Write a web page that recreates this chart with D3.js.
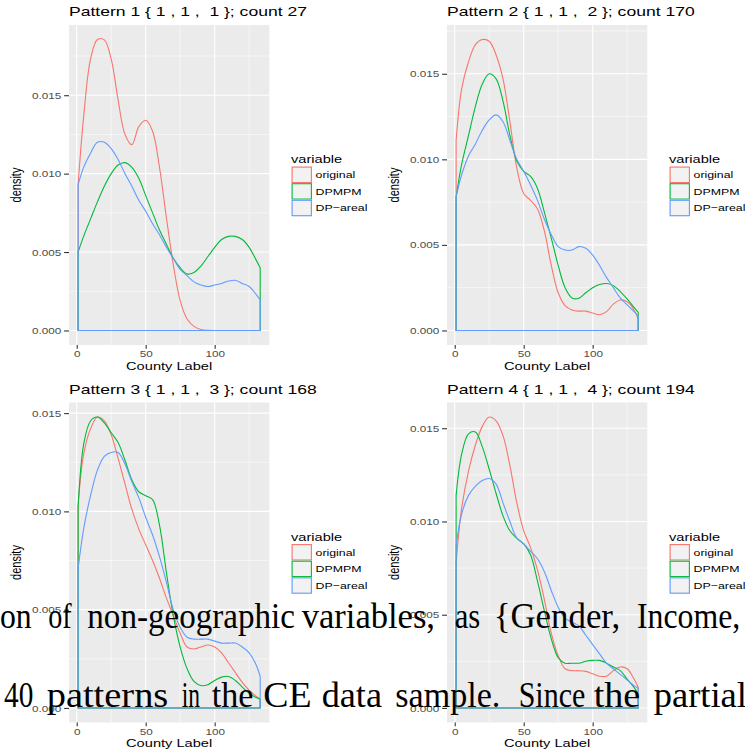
<!DOCTYPE html>
<html>
<head>
<meta charset="utf-8">
<script src="https://cdn.jsdelivr.net/npm/d3@7"></script>
<style>
  html, body { margin: 0; padding: 0; background: #fff; overflow: hidden; }
  svg { display: block; }
  text { white-space: pre; }
</style>
</head>
<body>
<svg id="fig" width="745" height="755"></svg>
<script>
// ---- data -------------------------------------------------------------
const countyGrid = [1, 5, 10, 15, 20, 25, 30, 35, 40, 45, 50, 55, 60, 65, 70,
                    75, 80, 85, 90, 95, 100, 105, 110, 115, 120, 125, 130, 133];

const seriesNames = ["original", "DPMPM", "DP\u2212areal"];
const seriesColors = ["#F8766D", "#00BA38", "#619CFF"];

const patternTitles = [
  "Pattern 1 { 1 , 1 ,  1 }; count 27",
  "Pattern 2 { 1 , 1 ,  2 }; count 170",
  "Pattern 3 { 1 , 1 ,  3 }; count 168",
  "Pattern 4 { 1 , 1 ,  4 }; count 194"
];

const xTickValues = [0, 50, 100];
const xMinorValues = [25, 75, 125];
const yTickValues = [0, 0.005, 0.010, 0.015];
const yTickLabels = ["0.000", "0.005", "0.010", "0.015"];
const yMinorValues = [0.0025, 0.0075, 0.0125, 0.0175];

const p1Original = [0.0093, 0.0136, 0.0173, 0.01855, 0.01853, 0.0173, 0.0147, 0.0125, 0.01185, 0.0130, 0.0134, 0.0127, 0.0104, 0.0072, 0.0042, 0.0019, 0.00073, 0.00026, 0.00006, 0.00001, 0, 0, 0, 0, 0, 0, 0, 0];
const p1DPMPM    = [0.0050, 0.0060, 0.0071, 0.0082, 0.0092, 0.0100, 0.01055, 0.0107, 0.0104, 0.0097, 0.0086, 0.0075, 0.0064, 0.0055, 0.0046, 0.0040, 0.0036, 0.0037, 0.0041, 0.0047, 0.0053, 0.0058, 0.0060, 0.0060, 0.0058, 0.0053, 0.0045, 0.0040];
const p1DPareal  = [0.0093, 0.0104, 0.0113, 0.0120, 0.0120, 0.0116, 0.0109, 0.0100, 0.0092, 0.0083, 0.0076, 0.0068, 0.0061, 0.0053, 0.0046, 0.0039, 0.0035, 0.0031, 0.0029, 0.0028, 0.0029, 0.0030, 0.00315, 0.0032, 0.0030, 0.0028, 0.0023, 0.00195];

const p2Original = [0.0111, 0.0141, 0.0157, 0.0167, 0.0170, 0.0169, 0.0161, 0.0147, 0.0122, 0.0095, 0.0080, 0.0076, 0.0071, 0.0058, 0.0038, 0.0022, 0.00145, 0.0012, 0.00113, 0.00113, 0.00102, 0.00092, 0.0011, 0.00154, 0.00178, 0.00168, 0.0012, 0.00066];
const p2DPMPM    = [0.0078, 0.0097, 0.0114, 0.0131, 0.0144, 0.0150, 0.0147, 0.0134, 0.0114, 0.0099, 0.0093, 0.0090, 0.0083, 0.0069, 0.0054, 0.0038, 0.0025, 0.0019, 0.00188, 0.0022, 0.0025, 0.00268, 0.00274, 0.00262, 0.00227, 0.00184, 0.00135, 0.00106];
const p2DPareal  = [0.0078, 0.0091, 0.0102, 0.0109, 0.0117, 0.0123, 0.0126, 0.0122, 0.0111, 0.0100, 0.0093, 0.0085, 0.0076, 0.0065, 0.0056, 0.0049, 0.0047, 0.0047, 0.0049, 0.0048, 0.0044, 0.0038, 0.0031, 0.0025, 0.0019, 0.0015, 0.0011, 0.00086];

const p3Original = [0.0103, 0.0129, 0.0142, 0.0148, 0.0146, 0.0139, 0.0127, 0.0114, 0.0101, 0.0091, 0.0083, 0.0075, 0.0066, 0.0056, 0.0047, 0.0038, 0.0031, 0.0030, 0.0031, 0.0032, 0.0031, 0.0028, 0.0023, 0.0018, 0.0013, 0.0009, 0.0006, 0.00046];
const p3DPMPM    = [0.0102, 0.0134, 0.0146, 0.0148, 0.0145, 0.0140, 0.0135, 0.0126, 0.0116, 0.0110, 0.0108, 0.0106, 0.0093, 0.0069, 0.0047, 0.0031, 0.0020, 0.00135, 0.00114, 0.00118, 0.0014, 0.00157, 0.0016, 0.0014, 0.00106, 0.00075, 0.00053, 0.00044];
const p3DPareal  = [0.0071, 0.0091, 0.0108, 0.0121, 0.0128, 0.0130, 0.0130, 0.0124, 0.0115, 0.0107, 0.0097, 0.0088, 0.0077, 0.0064, 0.0050, 0.0041, 0.0036, 0.0035, 0.0035, 0.0035, 0.0034, 0.0033, 0.0033, 0.0033, 0.0031, 0.0028, 0.0022, 0.0016];

const p4Original = [0.0078, 0.0107, 0.0127, 0.0141, 0.0151, 0.0156, 0.0154, 0.0146, 0.0130, 0.0110, 0.0095, 0.0086, 0.0074, 0.0058, 0.0040, 0.0028, 0.0021, 0.0020, 0.0020, 0.00196, 0.00183, 0.0017, 0.0017, 0.0020, 0.0022, 0.0021, 0.00155, 0.00111];
const p4DPMPM    = [0.0114, 0.0136, 0.0147, 0.0148, 0.0140, 0.0128, 0.0115, 0.0103, 0.0095, 0.0091, 0.0088, 0.0082, 0.0068, 0.0052, 0.0037, 0.0027, 0.0024, 0.0024, 0.0024, 0.0025, 0.00255, 0.00255, 0.0024, 0.0022, 0.0020, 0.00155, 0.0011, 0.00075];
const p4DPareal  = [0.0087, 0.0104, 0.0114, 0.0119, 0.0122, 0.0123, 0.0120, 0.0110, 0.0100, 0.0091, 0.0088, 0.0084, 0.0080, 0.0073, 0.0063, 0.0054, 0.0048, 0.0046, 0.0044, 0.0039, 0.0034, 0.0029, 0.0024, 0.0021, 0.0018, 0.0015, 0.0012, 0.00106];

const panelSeries = [
  [p1Original, p1DPMPM, p1DPareal],
  [p2Original, p2DPMPM, p2DPareal],
  [p3Original, p3DPMPM, p3DPareal],
  [p4Original, p4DPMPM, p4DPareal]
];

// running text of the page that sits over the lower figures
const bodyLine1 = ["on", "of", "non-geographic", "variables,", "as", "{Gender,", "Income,"];
const bodyLine2 = ["40", "patterns", "in", "the", "CE", "data", "sample.", "Since", "the", "partial"];

// ---- layout -----------------------------------------------------------
const SX = 1.33;                 // horizontal stretch of the embedded figure
const FONT = "'Liberation Sans', Arial, Helvetica, sans-serif";
const panelOffsets = [[0, 0], [378, 0], [0, 377.5], [378, 377.5]];
const box = { left: 69, right: 269.3, top: 25, bottom: 345 };
const line1Spans = [[0, 31.7], [48.3, 71.7], [87.3, 295], [301.7, 435], [454.7, 480.3], [493.7, 620.3], [637, 740.3]];
const line2Spans = [[4, 33.3], [46.7, 168.3], [181.7, 200], [211.7, 253.3], [263.3, 311.7], [321.7, 382], [395.3, 500.3], [518.7, 585.3], [593.7, 640.3], [653.7, 747]];

const svg = d3.select("#fig");
svg.append("rect").attr("width", 745).attr("height", 755).attr("fill", "#fff");

function sText(g, x, y, str, size, anchor, fill) {
  return g.append("text")
    .attr("transform", `translate(${x},${y}) scale(${SX},1)`)
    .attr("text-anchor", anchor || "start")
    .attr("font-family", FONT)
    .attr("font-size", size)
    .attr("fill", fill || "#000")
    .text(str);
}

panelSeries.forEach((series, pi) => {
  const [ox, oy] = panelOffsets[pi];
  const g = svg.append("g").attr("transform", `translate(${ox},${oy})`);

  const xMin = d3.min(countyGrid), xMax = d3.max(countyGrid);
  const xPad = 0.05 * (xMax - xMin);
  const x = d3.scaleLinear().domain([xMin - xPad, xMax + xPad]).range([box.left, box.right]);
  const yTop = d3.max(series, s => d3.max(s));
  const y = d3.scaleLinear().domain([-0.05 * yTop, 1.05 * yTop]).range([box.bottom, box.top]);

  // panel background and grid
  g.append("rect")
    .attr("x", box.left).attr("y", box.top)
    .attr("width", box.right - box.left).attr("height", box.bottom - box.top)
    .attr("fill", "#EBEBEB");

  const yDom = y.domain();
  const inY = v => v >= yDom[0] && v <= yDom[1];
  g.selectAll(".gxm").data(xMinorValues).join("line")
    .attr("x1", d => x(d)).attr("x2", d => x(d))
    .attr("y1", box.top).attr("y2", box.bottom)
    .attr("stroke", "#fff").attr("stroke-width", 0.55);
  g.selectAll(".gym").data(yMinorValues.filter(inY)).join("line")
    .attr("x1", box.left).attr("x2", box.right)
    .attr("y1", d => y(d)).attr("y2", d => y(d))
    .attr("stroke", "#fff").attr("stroke-width", 0.55);
  g.selectAll(".gx").data(xTickValues).join("line")
    .attr("x1", d => x(d)).attr("x2", d => x(d))
    .attr("y1", box.top).attr("y2", box.bottom)
    .attr("stroke", "#fff").attr("stroke-width", 1.1);
  g.selectAll(".gy").data(yTickValues).join("line")
    .attr("x1", box.left).attr("x2", box.right)
    .attr("y1", d => y(d)).attr("y2", d => y(d))
    .attr("stroke", "#fff").attr("stroke-width", 1.1);

  // density outlines: baseline, vertical edges at the data limits, and the curve
  const line = d3.line().x(d => x(d[0])).y(d => y(d[1])).curve(d3.curveCatmullRom.alpha(0.5));
  series.forEach((vals, si) => {
    const pts = countyGrid.map((c, i) => [c, vals[i]]);
    const curve = line(pts).replace(/^M/, "L");
    const d = `M${x(xMin)},${y(0)}` + curve + `L${x(xMax)},${y(0)}Z`;
    g.append("path")
      .attr("d", d)
      .attr("fill", "none")
      .attr("stroke", seriesColors[si])
      .attr("stroke-width", 1.1)
      .attr("stroke-linejoin", "round");
  });

  // axes
  const yAxis = d3.axisLeft(y).tickValues(yTickValues)
    .tickFormat((d, i) => yTickLabels[i]).tickSizeOuter(0).tickSize(4.9).tickPadding(0);
  const ya = g.append("g").attr("transform", `translate(${box.left},0)`).call(yAxis);
  ya.select(".domain").remove();
  ya.selectAll(".tick line").attr("stroke", "#333").attr("stroke-width", 1.1);
  ya.selectAll(".tick text")
    .attr("x", null).attr("dy", null)
    .attr("transform", `translate(-7.8,3.1) scale(${SX},1)`)
    .attr("font-family", FONT).attr("font-size", 8.8).attr("fill", "#4D4D4D");

  const xAxis = d3.axisBottom(x).tickValues(xTickValues).tickSizeOuter(0).tickSize(3.7).tickPadding(0);
  const xa = g.append("g").attr("transform", `translate(0,${box.bottom})`).call(xAxis);
  xa.select(".domain").remove();
  xa.selectAll(".tick line").attr("stroke", "#333").attr("stroke-width", 1.1);
  xa.selectAll(".tick text")
    .attr("y", null).attr("dy", null)
    .attr("transform", `translate(0,12.3) scale(${SX},1)`)
    .attr("font-family", FONT).attr("font-size", 8.8).attr("fill", "#4D4D4D");

  // titles
  sText(g, box.left, 16, patternTitles[pi], 13.2, "start");
  sText(g, (box.left + box.right) / 2, 369.5, "County Label", 11, "middle");
  g.append("text")
    .attr("transform", `translate(21,${(box.top + box.bottom) / 2}) scale(${SX},1) rotate(-90)`)
    .attr("text-anchor", "middle")
    .attr("font-family", FONT).attr("font-size", 11).attr("fill", "#000")
    .text("density");

  // legend
  const lx = 291.5, ly = 166.5, kw = 20.5, kh = 16.6;
  sText(g, lx - 0.5, 163, "variable", 11, "start");
  seriesNames.forEach((name, si) => {
    const ky = ly + si * kh;
    g.append("rect").attr("x", lx).attr("y", ky).attr("width", kw).attr("height", kh).attr("fill", "#F2F2F2");
    g.append("rect").attr("x", lx + 0.6).attr("y", ky + 0.6).attr("width", kw - 1.2).attr("height", kh - 1.2)
      .attr("fill", "none").attr("stroke", seriesColors[si]).attr("stroke-width", 1.1);
    sText(g, lx + kw + 3.5, ky + kh / 2 + 3.3, name, 9.3, "start");
  });
});

// running text lines over the lower row
function bodyLine(words, spans, baseline) {
  const t = svg.append("g");
  words.forEach((w, i) => {
    t.append("text")
      .attr("x", spans[i][0]).attr("y", baseline)
      .attr("textLength", spans[i][1] - spans[i][0])
      .attr("lengthAdjust", "spacingAndGlyphs")
      .attr("font-family", "'Liberation Serif', 'DejaVu Serif', serif")
      .attr("font-size", 35)
      .attr("fill", "#000")
      .text(w);
  });
}
bodyLine(bodyLine1, line1Spans, 628.3);
bodyLine(bodyLine2, line2Spans, 706.7);
</script>
</body>
</html>
